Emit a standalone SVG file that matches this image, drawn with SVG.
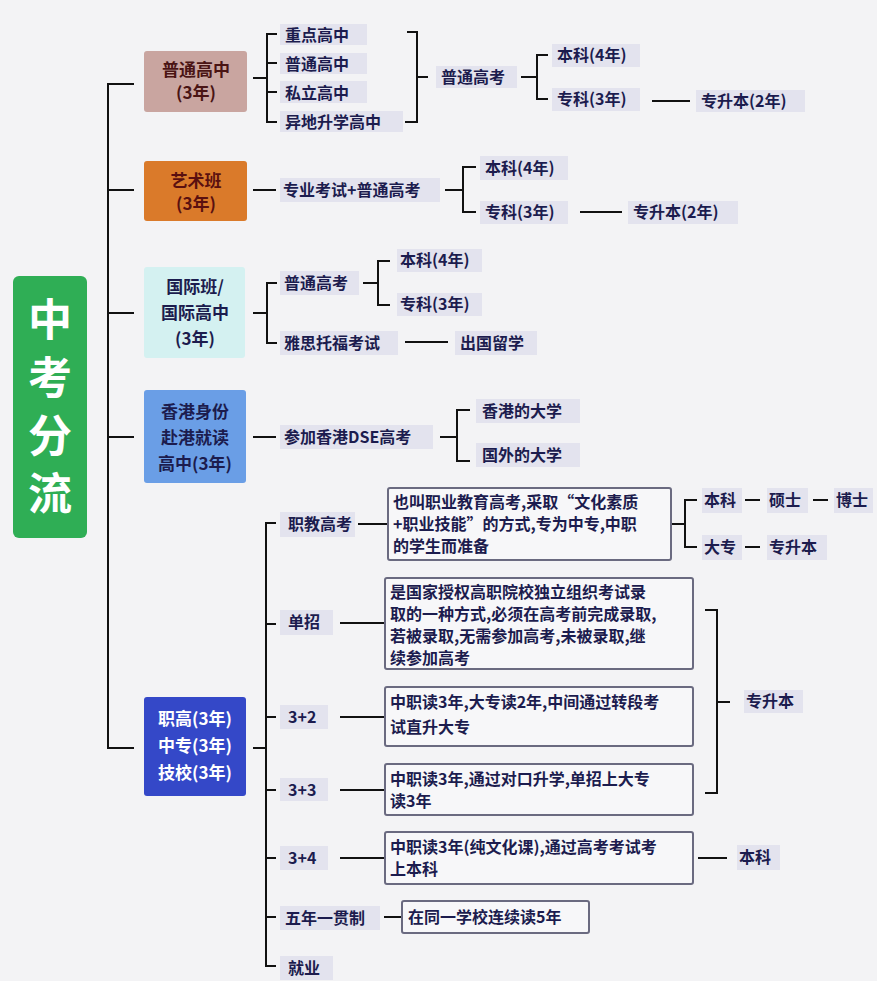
<svg xmlns="http://www.w3.org/2000/svg" width="877" height="981" viewBox="0 0 877 981">
<style>
text{font-family:"Noto Sans CJK SC","Noto Sans",sans-serif;font-size:16px;fill:#1c1c4e;font-weight:600}
.lb{fill:#e3e3ee}
.bx{fill:#f7f7f9;stroke:#6a6a80;stroke-width:2}
.c{stroke:#111;stroke-width:2;fill:none}
.ct{text-anchor:middle;font-size:17px}
.rt{text-anchor:middle;font-size:44px;fill:#fff;font-weight:700}
</style>
<rect width="877" height="981" fill="#f3f3f5"/>
<g id="connectors" class="c">
<path d="M134 84H108V748H134M108 190H134M108 313H134M108 437H134"/>
<path d="M253 78H267M277 34H267V122H277M267 63H277M267 92H277"/>
<path d="M407 32H417V122H405M417 77H428M521 77H537M548 55H537V99H548M652 101H690"/>
<path d="M253 190H276M445 190H463M476 167H463V212H476M580 212H622"/>
<path d="M253 313H267M277 283H267V343H277M363 283H378M390 261H378V305H390M405 342H448"/>
<path d="M253 437H276M440 437H457M470 410H457V461H470"/>
<path d="M253 748H266M276 523H266V966H276M266 624H276M266 717H276M266 790H276M266 858H276M266 917H276"/>
<path d="M358 524H387M671 524H685M697 500H685V547H697M745 500H760M813 500H828M745 547H760"/>
<path d="M340 623H384M340 717H384M340 790H384M340 858H384M384 917H402"/>
<path d="M705 610H717V793H705M717 702H730M698 858H727"/>
</g>
<g id="root"><rect x="13" y="276" width="74" height="262" rx="6" fill="#2fae55"/>
<text class="rt" x="50" y="336">中</text>
<text class="rt" x="50" y="394">考</text>
<text class="rt" x="50" y="452">分</text>
<text class="rt" x="50" y="510">流</text></g>
<g id="n1"><rect x="144" y="51" width="103" height="61" rx="3" fill="#c9a5a0"/><text class="ct" x="196" y="76" style="fill:#4a1414">普通高中</text><text class="ct" x="196" y="99" style="fill:#4a1414">(3年)</text></g>
<g id="n2"><rect x="144" y="161" width="103" height="60" rx="3" fill="#da7a2a"/><text class="ct" x="196" y="187" style="fill:#5a1010">艺术班</text><text class="ct" x="196" y="210" style="fill:#5a1010">(3年)</text></g>
<g id="n3"><rect x="144" y="267" width="101" height="91" rx="3" fill="#d4f1f1"/><text class="ct" x="195" y="293">国际班/</text><text class="ct" x="195" y="319">国际高中</text><text class="ct" x="195" y="345">(3年)</text></g>
<g id="n4"><rect x="144" y="390" width="102" height="93" rx="3" fill="#6a9ee6"/><text class="ct" x="195" y="418">香港身份</text><text class="ct" x="195" y="444">赴港就读</text><text class="ct" x="195" y="470">高中(3年)</text></g>
<g id="n5"><rect x="144" y="697" width="102" height="99" rx="3" fill="#3448c8"/><text class="ct" x="195" y="725" style="fill:#fff">职高(3年)</text><text class="ct" x="195" y="752" style="fill:#fff">中专(3年)</text><text class="ct" x="195" y="779" style="fill:#fff">技校(3年)</text></g>
<g id="labels">
<rect class="lb" x="280" y="24" width="87" height="21"/><text x="285" y="41">重点高中</text>
<rect class="lb" x="280" y="53" width="87" height="21"/><text x="285" y="70">普通高中</text>
<rect class="lb" x="280" y="81" width="87" height="22"/><text x="285" y="99">私立高中</text>
<rect class="lb" x="280" y="111" width="123" height="21"/><text x="285" y="128">异地升学高中</text>
<rect class="lb" x="436" y="66" width="81" height="22"/><text x="441" y="83">普通高考</text>
<rect class="lb" x="552" y="44" width="88" height="23"/><text x="557" y="61">本科(4年)</text>
<rect class="lb" x="552" y="88" width="88" height="23"/><text x="557" y="105">专科(3年)</text>
<rect class="lb" x="696" y="90" width="109" height="22"/><text x="701" y="107">专升本(2年)</text>
<rect class="lb" x="280" y="178" width="160" height="24"/><text x="283" y="196">专业考试+普通高考</text>
<rect class="lb" x="480" y="156" width="88" height="24"/><text x="485" y="174">本科(4年)</text>
<rect class="lb" x="480" y="201" width="88" height="23"/><text x="485" y="218">专科(3年)</text>
<rect class="lb" x="628" y="201" width="110" height="23"/><text x="633" y="218">专升本(2年)</text>
<rect class="lb" x="280" y="271" width="79" height="24"/><text x="284" y="289">普通高考</text>
<rect class="lb" x="397" y="249" width="85" height="23"/><text x="400" y="266">本科(4年)</text>
<rect class="lb" x="397" y="293" width="85" height="23"/><text x="400" y="310">专科(3年)</text>
<rect class="lb" x="280" y="331" width="118" height="24"/><text x="284" y="349">雅思托福考试</text>
<rect class="lb" x="455" y="331" width="82" height="24"/><text x="460" y="349">出国留学</text>
<rect class="lb" x="280" y="425" width="153" height="24"/><text x="284" y="443">参加香港DSE高考</text>
<rect class="lb" x="476" y="399" width="104" height="24"/><text x="482" y="417">香港的大学</text>
<rect class="lb" x="476" y="443" width="104" height="24"/><text x="482" y="461">国外的大学</text>
<rect class="lb" x="280" y="512" width="75" height="25"/><text x="288" y="530">职教高考</text>
<rect class="lb" x="702" y="488" width="40" height="25"/><text x="704" y="506">本科</text>
<rect class="lb" x="767" y="488" width="41" height="25"/><text x="769" y="506">硕士</text>
<rect class="lb" x="834" y="488" width="39" height="25"/><text x="836" y="506">博士</text>
<rect class="lb" x="702" y="535" width="40" height="25"/><text x="704" y="553">大专</text>
<rect class="lb" x="767" y="535" width="60" height="25"/><text x="769" y="553">专升本</text>
<rect class="lb" x="280" y="610" width="53" height="25"/><text x="288" y="628">单招</text>
<rect class="lb" x="744" y="690" width="59" height="23"/><text x="746" y="707">专升本</text>
<rect class="lb" x="280" y="705" width="48" height="24"/><text x="288" y="723">3+2</text>
<rect class="lb" x="280" y="778" width="48" height="23"/><text x="288" y="796">3+3</text>
<rect class="lb" x="280" y="846" width="48" height="24"/><text x="288" y="864">3+4</text>
<rect class="lb" x="737" y="845" width="43" height="25"/><text x="739" y="863">本科</text>
<rect class="lb" x="280" y="906" width="100" height="24"/><text x="285" y="924">五年一贯制</text>
<rect class="lb" x="280" y="956" width="53" height="24"/><text x="288" y="974">就业</text>
</g>
<g id="boxes">
<rect class="bx" x="388" y="488" width="283" height="72" rx="2"/><text x="393" y="508">也叫职业教育高考,采取“文化素质</text><text x="393" y="530">+职业技能”的方式,专为中专,中职</text><text x="393" y="552">的学生而准备</text>
<rect class="bx" x="385" y="578" width="308" height="91" rx="2"/><text x="390" y="598">是国家授权高职院校独立组织考试录</text><text x="390" y="620">取的一种方式,必须在高考前完成录取,</text><text x="390" y="642">若被录取,无需参加高考,未被录取,继</text><text x="390" y="664">续参加高考</text>
<rect class="bx" x="385" y="687" width="308" height="59" rx="2"/><text x="390" y="708">中职读3年,大专读2年,中间通过转段考</text><text x="390" y="733">试直升大专</text>
<rect class="bx" x="385" y="764" width="308" height="51" rx="2"/><text x="390" y="785">中职读3年,通过对口升学,单招上大专</text><text x="390" y="807">读3年</text>
<rect class="bx" x="385" y="832" width="308" height="52" rx="2"/><text x="390" y="853">中职读3年(纯文化课),通过高考考试考</text><text x="390" y="875">上本科</text>
<rect class="bx" x="402" y="901" width="187" height="32" rx="2"/><text x="408" y="923">在同一学校连续读5年</text>
</g>
</svg>
